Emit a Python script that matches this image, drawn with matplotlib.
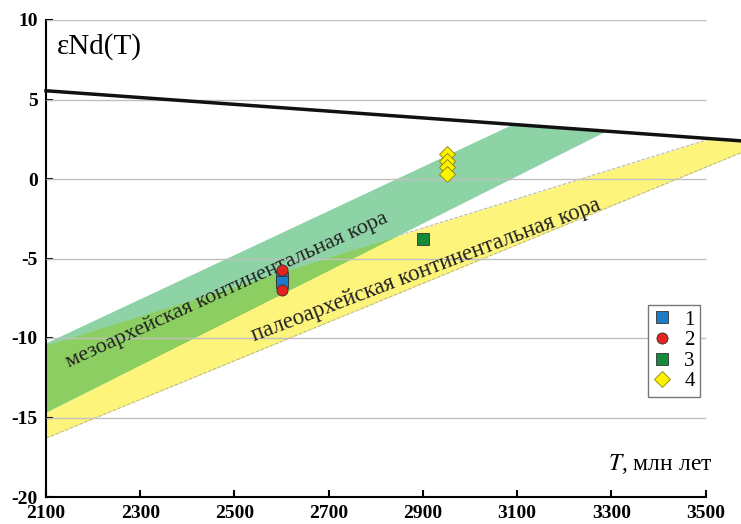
import matplotlib.pyplot as plt
import numpy as np

plt.rcParams['font.family'] = ['Liberation Serif', 'DejaVu Serif']
plt.rcParams['mathtext.fontset'] = 'stix'
plt.rcParams['axes.unicode_minus'] = False

# Age range drawn (Ma) and the axis range
t_ends = [2100, 3575]
x_ticks = [2100, 2300, 2500, 2700, 2900, 3100, 3300, 3500]
y_ticks = [-20, -15, -10, -5, 0, 5, 10]
grid_levels = [-15, -10, -5, 0, 5, 10]

# Depleted mantle line: eNd at 2100 and 3575 Ma
dm_end = [5.55, 2.4]

# Mesoarchean crust band: (eNd at 2100, slope per Ma) for upper / lower edges
meso_upper = [-10.3, 0.01389]
meso_lower = [-14.65, 0.01487]

# Paleoarchean crust band
paleo_upper = [-10.45, 0.00921]
paleo_lower = [-16.3, 0.01217]

# Samples
s1_t = [2600, 2600]
s1_e = [-6.2, -6.5]
s2_t = [2600, 2600]
s2_e = [-5.7, -6.95]
s3_t = [2900]
s3_e = [-3.8]
s4_t = [2950, 2950, 2950, 2950]
s4_e = [1.6, 1.15, 0.75, 0.3]


def edge(p, t):
    return p[0] + p[1] * (t - 2100)


t = np.linspace(t_ends[0], t_ends[1], 1500)
dm = np.interp(t, t_ends, dm_end)

fig = plt.figure(figsize=(7.41, 5.24), dpi=100)
ax = fig.add_axes([46/741, 27/524, 695/741, 477/524])

# paleoarchean band (yellow)
pu = np.minimum(edge(paleo_upper, t), dm)
pl = edge(paleo_lower, t)
ax.fill_between(t, pl, pu, where=pl <= dm, color='#fdf47c', lw=0,
                zorder=1, clip_on=False)
ok = edge(paleo_upper, t) <= dm
ax.plot(t[ok], edge(paleo_upper, t)[ok], ls='--', color='#b5b5a0', lw=0.7,
        zorder=1.1, clip_on=False)
ok = pl <= dm
ax.plot(t[ok], pl[ok], ls='--', color='#b5b5a0', lw=0.7, zorder=1.1,
        clip_on=False)

# mesoarchean band (teal green)
mu = np.minimum(edge(meso_upper, t), dm)
ml = edge(meso_lower, t)
ax.fill_between(t, ml, mu, where=ml <= dm, color='#8ed3a6', lw=0,
                zorder=2, clip_on=False)

# overlap of both bands
ou = np.minimum(mu, pu)
ol = np.maximum(ml, pl)
ax.fill_between(t, ol, ou, where=ol <= ou, color='#8dce62', lw=0,
                zorder=2.5, clip_on=False)

# grid
ax.hlines(grid_levels, 2100, 3500, color='#c0c0c0', lw=1, zorder=3)

# depleted mantle
ax.plot(t, dm, color='#111111', lw=2.5, zorder=4, clip_on=False)

ms = 8
ax.plot(s1_t, s1_e, 's', color='#1e7bc8', mec='#333333', mew=0.6, ms=ms,
        ls='none', zorder=6, label='1')
ax.plot(s2_t, s2_e, 'o', color='#e3231e', mec='#333333', mew=0.6, ms=ms,
        ls='none', zorder=6, label='2')
ax.plot(s3_t, s3_e, 's', color='#15893a', mec='#333333', mew=0.6, ms=ms,
        ls='none', zorder=6, label='3')
ax.plot(s4_t, s4_e, 'D', color='#fff200', mec='#8a8000', mew=0.6, ms=ms,
        ls='none', zorder=6, label='4')

ax.text(2484, -7.0, 'мезоархейская континентальная кора', fontsize=16,
        rotation=24.5, rotation_mode='anchor', ha='center', va='center',
        color='#222222', zorder=5)
ax.text(2906, -5.75, 'палеоархейская континентальная кора', fontsize=16.5,
        rotation=20.8, rotation_mode='anchor', ha='center', va='center',
        color='#222222', zorder=5)

ax.text(0.016, 0.945, 'εNd(T)', transform=ax.transAxes, fontsize=21,
        ha='left', va='center')
ax.text(3515, -18.3, '$T$, млн лет', fontsize=17, ha='right', va='baseline')

ax.set_xlim(t_ends)
ax.set_ylim(-20, 10)
ax.set_xticks(x_ticks)
ax.set_yticks(y_ticks)
ax.tick_params(direction='in', length=5, width=1.5, labelsize=14, pad=6)
for lab in ax.get_xticklabels() + ax.get_yticklabels():
    lab.set_fontweight('bold')
ax.spines['top'].set_visible(False)
ax.spines['right'].set_visible(False)
ax.spines['left'].set_linewidth(1.5)
ax.spines['bottom'].set_linewidth(1.5)
ax.spines['bottom'].set_bounds(2100, 3500)

leg = ax.legend(loc='upper left', bbox_to_anchor=(0.866, 0.403), fontsize=15,
                handlelength=0.9, handletextpad=0.6, borderpad=0.25,
                labelspacing=0.05, fancybox=False, framealpha=1,
                edgecolor='#777777', borderaxespad=0)
leg.set_zorder(7)

fig.savefig('out.png', dpi=100)
